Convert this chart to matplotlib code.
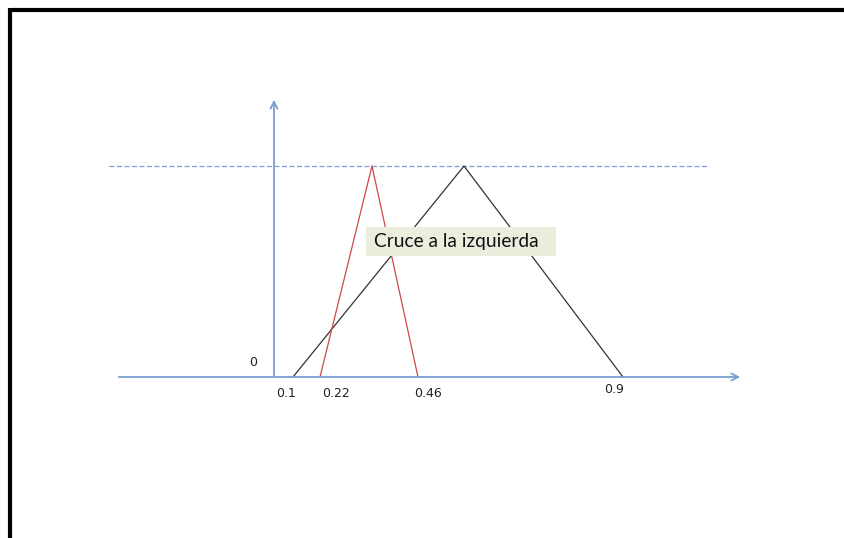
import matplotlib
matplotlib.use("Agg")
import matplotlib.pyplot as plt
from matplotlib.patches import Rectangle

# schematic positions (px from the vertical axis), heights as fraction of peak
black_x = [19, 190, 349]
black_y = [0, 1, 0]
red_x = [46, 98, 144]
red_y = [0, 1, 0]

tick_labels = ["0.1", "0.22", "0.46", "0.9"]
tick_pos = [12, 62, 154, 340]
tick_h = [-0.08, -0.08, -0.08, -0.057]

note = "Cruce a la izquierda"

blue = "#7a9fd4"
fig = plt.figure(figsize=(8.44, 5.38), dpi=100)
ax = fig.add_axes([0, 0, 1, 1])
ax.set_xlim(-274, 570)
ax.set_ylim(-161 / 211, 377 / 211)
ax.axis("off")

px = 1 / 211  # one pixel in y units

# frame lines (top and left)
ax.plot([-264, 570], [367 * px, 367 * px], color="black", lw=3, solid_capstyle="butt")
ax.plot([-264, -264], [367 * px + 1.5 * px, -161 * px], color="black", lw=3, solid_capstyle="butt")

# axes
ax.annotate("", xy=(469, 0), xytext=(-158, 0),
            arrowprops=dict(arrowstyle="->,head_length=0.5,head_width=0.25", color=blue, lw=1.3))
ax.annotate("", xy=(0, 280 * px), xytext=(0, -1 * px),
            arrowprops=dict(arrowstyle="->,head_length=0.5,head_width=0.25", color=blue, lw=1.3))

# dashed peak level
ax.plot([-165, 434], [1, 1], color=blue, lw=0.9, dashes=(4, 2))

# triangles
ax.plot(black_x, black_y, color="#333333", lw=0.9)
ax.plot(red_x, red_y, color="#d04848", lw=0.9)

# labels
for lab, xp, yp in zip(tick_labels, tick_pos, tick_h):
    ax.text(xp, yp, lab, ha="center", va="center", fontsize=9, color="#222222")
ax.text(-21, 15 * px, "0", ha="center", va="center", fontsize=9, color="#222222")

# note box
ax.add_patch(Rectangle((92, 121 * px), 190, 29 * px, facecolor="#ebeedd", edgecolor="none", zorder=3))
ax.text(100, 135 * px, note, ha="left", va="center", fontsize=13.8,
        family="Lato", color="#111111", zorder=4)

fig.savefig("out.png", dpi=100)
